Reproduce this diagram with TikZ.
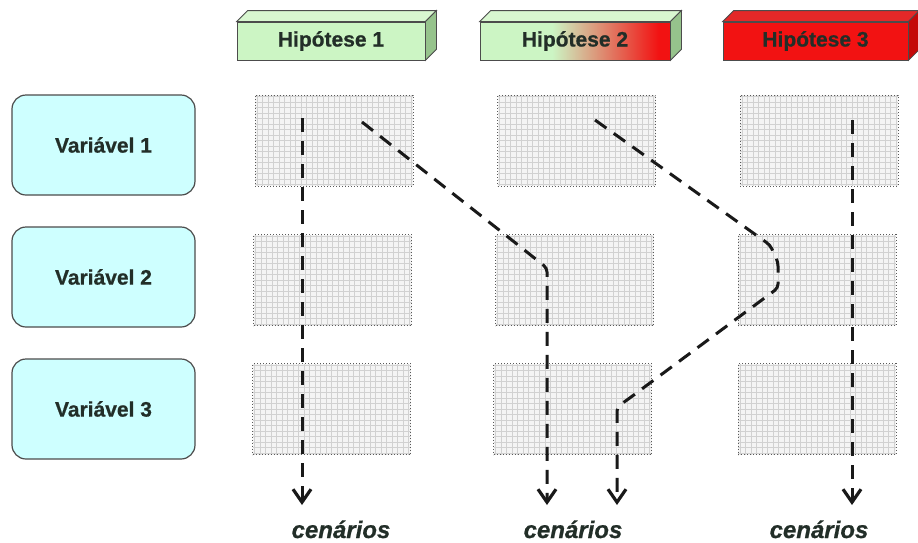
\documentclass[tikz,border=0pt]{standalone}
\usepackage{fontspec}
\setmainfont{Liberation Sans}[BoldFeatures={FakeBold=0.7},BoldItalicFeatures={FakeBold=0.7}]
\usetikzlibrary{arrows.meta,calc}

\definecolor{hgreen}{RGB}{204,245,196}
\definecolor{hgreentop}{RGB}{216,247,208}
\definecolor{hgreenside}{RGB}{150,195,140}
\definecolor{hred}{RGB}{242,18,18}
\definecolor{hredtop}{RGB}{228,40,40}
\definecolor{hredside}{RGB}{196,8,8}
\definecolor{vcyan}{RGB}{206,255,255}
\definecolor{inkdark}{RGB}{34,46,40}

% green held to the middle, then fading to red
\pgfdeclarehorizontalshading{greentored}{100bp}{%
  color(0bp)=(hgreen); color(25bp)=(hgreen); color(44bp)=(hgreen);
  color(72bp)=(hred); color(100bp)=(hred)}

\tikzset{
  hyp/.style={draw=black!70, line width=0.8pt, minimum width=188pt,
    minimum height=38pt, inner sep=0pt, text=inkdark,
    font=\fontsize{21}{24}\selectfont\bfseries},
  varbox/.style={draw=black!70, line width=1.2pt, fill=vcyan,
    rounded corners=14pt, minimum width=183pt, minimum height=100pt,
    text=inkdark, font=\fontsize{21}{24}\selectfont\bfseries},
  cell/.style={draw=black!65, dotted, line width=1pt, fill=gray!9,
    minimum width=158pt, minimum height=91pt, inner sep=0pt,
    path picture={\draw[gray!36, line width=0.45pt, solid]
      (path picture bounding box.south west) grid[step=5.5pt]
      (path picture bounding box.north east);}},
  flow/.style={line width=3pt, dash pattern=on 14pt off 9pt,
    black!90, rounded corners=4pt},
  toscene/.style={-{Straight Barb[length=13pt,width=18pt,line width=3.2pt]}},
  scene/.style={text=inkdark, anchor=base,
    font=\fontsize{24}{28}\selectfont\bfseries\itshape},
}

\newcommand{\boxfaces}[3]{% node, top colour, side colour
  \filldraw[draw=black!70, line width=0.8pt, fill=#2]
    (#1.north west) -- ++(11,-11) -- ($(#1.north east)+(11,-11)$)
    -- (#1.north east) -- cycle;
  \filldraw[draw=black!70, line width=0.8pt, fill=#3]
    (#1.north east) -- ++(11,-11) -- ($(#1.south east)+(11,-11)$)
    -- (#1.south east) -- cycle;}

\begin{document}
\begin{tikzpicture}[x=1pt,y=-1pt]
\useasboundingbox (0,0) rectangle (918,542);

% hypotheses
\node[hyp, fill=hgreen] (h1) at (331,41) {Hipótese 1};
\boxfaces{h1}{hgreentop}{hgreenside}
\node[hyp, shading=greentored, minimum width=190pt] (h2) at (575,41) {Hipótese 2};
\boxfaces{h2}{hgreentop}{hgreenside}
\node[hyp, fill=hred, minimum width=185pt] (h3) at (815.5,41) {Hipótese 3};
\boxfaces{h3}{hredtop}{hredside}

% variables
\node[varbox] (v1) at (103.5,145) {Variável 1};
\node[varbox] (v2) at (103.5,277) {Variável 2};
\node[varbox] (v3) at (103.5,409) {Variável 3};

% option cells
\node[cell] (c11) at (334,140.5) {};
\node[cell] (c12) at (576.5,140.5) {};
\node[cell] (c13) at (819,140.5) {};
\node[cell] (c21) at (332.5,280) {};
\node[cell] (c22) at (574.5,280) {};
\node[cell] (c23) at (817,280) {};
\node[cell] (c31) at (331.5,409) {};
\node[cell] (c32) at (572.5,409) {};
\node[cell] (c33) at (817,409) {};

% path way-points
\coordinate (a0) at (302,118);
\coordinate (a1) at (302,505);
\coordinate (b0) at (362,122);
\coordinate (b1) at (508,237);
\coordinate (b2) at (547,268);
\coordinate (b3) at (547,505);
\coordinate (k0) at (595,120);
\coordinate (k1) at (770,245);
\coordinate (k2) at (778,262);
\coordinate (k3) at (778,288);
\coordinate (k4) at (627,400);
\coordinate (k5) at (617,407);
\coordinate (k6) at (617,505);
\coordinate (d0) at (852,120);
\coordinate (d1) at (852,505);

% scenario paths
\draw[flow, toscene] (a0) -- (a1);
\draw[flow, toscene] (b0) -- (b1) -- (b2) -- (b3);
\draw[flow, toscene] (k0) -- (k1) -- (k2) -- (k3) -- (k4) -- (k5) -- (k6);
\draw[flow, toscene] (d0) -- (d1);

% outcomes
\node[scene] (s1) at (341,538) {cenários};
\node[scene] (s2) at (573,538) {cenários};
\node[scene] (s3) at (819,538) {cenários};
\end{tikzpicture}
\end{document}
